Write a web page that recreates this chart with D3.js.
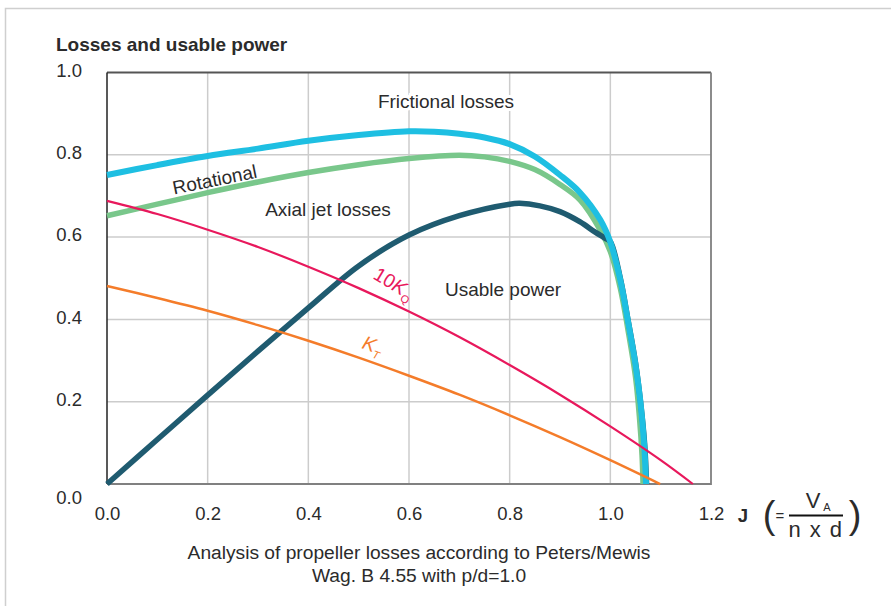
<!DOCTYPE html>
<html><head><meta charset="utf-8">
<script src="https://cdn.jsdelivr.net/npm/d3@7"></script>
<style>
html,body{margin:0;padding:0;background:#fff;}
text{font-family:"Liberation Sans",Arial,Helvetica,sans-serif;fill:#2b2b2b;}
</style></head>
<body>
<svg id="chart" width="891" height="606"></svg>
<script>
// ---- data ----
const xTicks = [0.0, 0.2, 0.4, 0.6, 0.8, 1.0, 1.2];
const yTicks = [0.0, 0.2, 0.4, 0.6, 0.8, 1.0];

const frictionalJ = [0, 0.1, 0.2, 0.3, 0.4, 0.5, 0.6, 0.65, 0.7, 0.75, 0.8, 0.85, 0.9, 0.94, 0.98, 1.0, 1.02, 1.035, 1.05, 1.06, 1.067, 1.071];
const frictionalV = [0.751, 0.775, 0.797, 0.815, 0.834, 0.848, 0.857, 0.856, 0.851, 0.842, 0.826, 0.796, 0.751, 0.708, 0.642, 0.588, 0.495, 0.396, 0.29, 0.197, 0.10, 0.0];

const rotationalJ = [0, 0.1, 0.2, 0.3, 0.4, 0.5, 0.6, 0.7, 0.75, 0.8, 0.85, 0.9, 0.94, 0.98, 1.0, 1.02, 1.035, 1.05, 1.058, 1.063, 1.065];
const rotationalV = [0.652, 0.680, 0.708, 0.734, 0.757, 0.776, 0.791, 0.799, 0.795, 0.784, 0.764, 0.728, 0.690, 0.617, 0.565, 0.475, 0.375, 0.26, 0.16, 0.07, 0.0];

const usableJ = [0, 0.1, 0.2, 0.3, 0.4, 0.5, 0.6, 0.7, 0.8, 0.82, 0.86, 0.9, 0.94, 0.97, 0.99, 1.0, 1.02, 1.035, 1.05, 1.06, 1.068, 1.072];
const usableV = [0.0, 0.108, 0.216, 0.323, 0.428, 0.530, 0.605, 0.652, 0.680, 0.682, 0.676, 0.662, 0.637, 0.612, 0.597, 0.589, 0.499, 0.40, 0.295, 0.20, 0.10, 0.0];

const kq10J = [0, 0.1, 0.2, 0.3, 0.4, 0.5, 0.6, 0.7, 0.8, 0.9, 1.0, 1.1, 1.164];
const kq10V = [0.688, 0.656, 0.618, 0.576, 0.528, 0.476, 0.419, 0.357, 0.289, 0.217, 0.140, 0.058, 0.0];

const ktJ = [0, 0.1, 0.2, 0.3, 0.4, 0.5, 0.6, 0.7, 0.8, 0.9, 1.0, 1.099];
const ktV = [0.481, 0.452, 0.421, 0.386, 0.348, 0.307, 0.263, 0.217, 0.167, 0.114, 0.058, 0.0];

// ---- layout ----
const svg = d3.select("#chart");
const L = 107, R = 711, T = 72.5, B = 484;
const x = d3.scaleLinear().domain([0, 1.2]).range([L, R]);
const y = d3.scaleLinear().domain([0, 1]).range([B, T]);

// card border
svg.append("path").attr("d", `M5.5,606 L5.5,8.5 L891,8.5`)
  .attr("fill", "none").attr("stroke", "#cfcfcf").attr("stroke-width", 1.5);

// grid
const grid = svg.append("g");
grid.selectAll("line.v").data(xTicks.filter(d => d > 0 && d < 1.2)).join("line")
  .attr("x1", d => x(d)).attr("x2", d => x(d)).attr("y1", T).attr("y2", B)
  .attr("stroke", "#cccccc").attr("stroke-width", 1.5);
grid.selectAll("line.h").data(yTicks.filter(d => d > 0 && d < 1)).join("line")
  .attr("x1", L).attr("x2", R).attr("y1", d => y(d)).attr("y2", d => y(d))
  .attr("stroke", "#cccccc").attr("stroke-width", 1.5);

// frame
svg.append("path").attr("d", `M${L},${T} L${R},${T}`)
  .attr("fill", "none").attr("stroke", "#555").attr("stroke-width", 1.8);
svg.append("path").attr("d", `M${R},${T} L${R},${B} L${L},${B}`)
  .attr("fill", "none").attr("stroke", "#808080").attr("stroke-width", 1.8);
svg.append("line").attr("x1", L).attr("x2", L).attr("y1", T).attr("y2", B)
  .attr("stroke", "#222").attr("stroke-width", 1.5);

// axes
const xAxis = svg.append("g").attr("transform", `translate(0,${B})`)
  .call(d3.axisBottom(x).tickValues(xTicks).tickFormat(d3.format(".1f")).tickSize(0).tickPadding(23));
xAxis.select(".domain").remove();
xAxis.selectAll("text").style("font-size", "18.5px").attr("fill", "#2b2b2b");

const yAxis = svg.append("g").attr("transform", `translate(${L},0)`)
  .call(d3.axisLeft(y).tickValues(yTicks).tickFormat(d3.format(".1f")).tickSize(0).tickPadding(25));
yAxis.select(".domain").remove();
yAxis.selectAll("text").style("font-size", "18.5px").attr("fill", "#2b2b2b")
  .attr("dy", d => d === 0 ? "1.05em" : "0.2em");

// text labels in plot
function label(txt, cx, cy, opts = {}) {
  const t = svg.append("text").attr("x", cx).attr("y", cy)
    .attr("text-anchor", opts.anchor || "middle")
    .style("font-size", (opts.size || 19) + "px");
  if (opts.rotate) t.attr("transform", `rotate(${opts.rotate},${cx},${cy})`);
  if (opts.halo) t.attr("stroke", "#fff").attr("stroke-width", 6).attr("paint-order", "stroke");
  if (opts.fill) t.attr("fill", opts.fill).style("fill", opts.fill);
  if (opts.weight) t.style("font-weight", opts.weight);
  if (opts.ls) t.style("letter-spacing", opts.ls + "px");
  t.text(txt);
  return t;
}
label("Frictional losses", 446, 108, {halo: true});
label("Axial jet losses", 328, 216);
label("Usable power", 503, 296);

// curves
const line = d3.line().x(d => x(d[0])).y(d => y(d[1])).curve(d3.curveCatmullRom.alpha(0.5));
const zip = (a, b) => a.map((v, i) => [v, b[i]]);
const curves = [
  {J: rotationalJ, V: rotationalV, color: "#79c78b", w: 5.5},
  {J: usableJ, V: usableV, color: "#1f5b70", w: 5.5},
  {J: frictionalJ, V: frictionalV, color: "#1ebfe2", w: 6},
  {J: ktJ, V: ktV, color: "#f47c2a", w: 2.5},
  {J: kq10J, V: kq10V, color: "#e8185c", w: 2.2}
];
svg.append("g").selectAll("path").data(curves).join("path")
  .attr("d", c => line(zip(c.J, c.V)))
  .attr("fill", "none").attr("stroke", c => c.color).attr("stroke-width", c => c.w)
  .attr("stroke-linecap", "butt");

// rotated labels
label("Rotational", 216, 186, {rotate: -11.5});

const kq = svg.append("text").attr("transform", "translate(372,278) rotate(31)")
  .style("font-size", "19.5px").style("fill", "#e8185c");
kq.append("tspan").text("10");
kq.append("tspan").style("font-style", "italic").text("K");
kq.append("tspan").attr("dy", 5).style("font-size", "11px").text("Q");

const kt = svg.append("text").attr("transform", "translate(361,348) rotate(20)")
  .style("font-size", "19.5px").style("fill", "#f47c2a");
kt.append("tspan").style("font-style", "italic").text("K");
kt.append("tspan").attr("dy", 5).style("font-size", "11px").style("font-style", "italic").text("T");

// title
label("Losses and usable power", 56, 51, {anchor: "start", weight: "bold", size: 19});

// x-axis formula
label("J", 743, 522, {weight: "bold", size: 18.5});
label("(", 769, 528, {size: 38});
label("=", 780, 521, {size: 15});
svg.append("line").attr("x1", 789).attr("x2", 843).attr("y1", 515.5).attr("y2", 515.5)
  .attr("stroke", "#111").attr("stroke-width", 2);
label("V", 813, 508, {size: 22});
label("A", 827, 511, {size: 11});
label("n x d", 816, 537, {size: 22, ls: 1.5});
label(")", 855, 528, {size: 38});

// caption
label("Analysis of propeller losses according to Peters/Mewis", 419, 559, {size: 19.2});
label("Wag. B 4.55 with p/d=1.0", 419, 582, {size: 19.2});
</script>
</body></html>
